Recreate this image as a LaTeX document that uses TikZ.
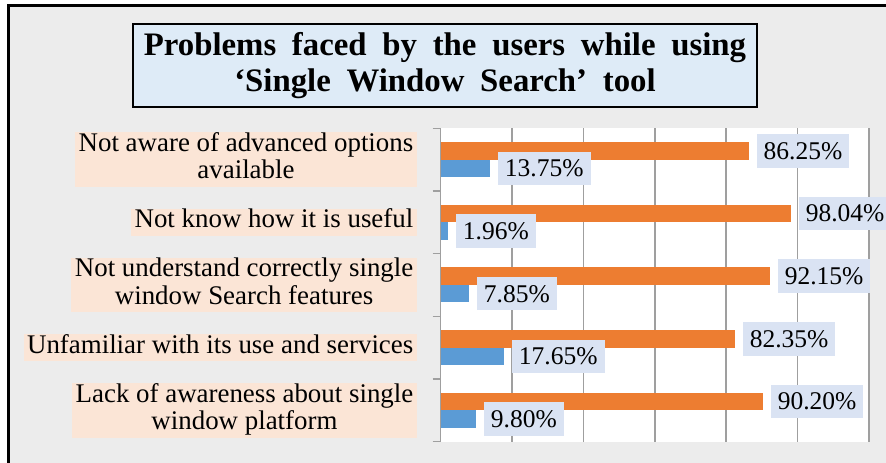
\documentclass[tikz,border=0pt]{standalone}
\usepackage{fontspec}
\setmainfont{Liberation Serif}
\usepackage{tikz}
\definecolor{ececec}{HTML}{ECECEC}
\definecolor{deebf7}{HTML}{DEEBF7}
\definecolor{fbe5d6}{HTML}{FBE5D6}
\definecolor{dae3f3}{HTML}{DAE3F3}
\definecolor{ed7d31}{HTML}{ED7D31}
\definecolor{5b9bd5}{HTML}{5B9BD5}
\definecolor{9f9f9f}{HTML}{9F9F9F}
\newcommand{\ttlfont}{\fontsize{32.8}{36.7}\selectfont\bfseries\spaceskip 0.48em\relax}
\begin{document}
\begin{tikzpicture}[line cap=butt,line join=miter,x=1pt,y=1pt,
  catlabel/.style={fill=fbe5d6,anchor=east,align=center,inner xsep=3.5pt,inner ysep=0pt,font=\fontsize{26.9}{27.3}\selectfont},
  vlabel/.style={fill=dae3f3,anchor=west,xshift=8pt,inner xsep=7pt,inner ysep=0pt,minimum height=33.5pt,font=\fontsize{25.5}{30}\selectfont}]
\useasboundingbox (0,0) rectangle (886,463);
\fill[color=white] (0,0) rectangle (886,463);
\fill[color=ececec] (8.5,0) rectangle (886,457.5);
\draw[line width=3pt] (8.5,0) -- (8.5,457.5) -- (886,457.5);
\begin{scope}[shift={(440.7,0)},x=3.569pt]
\fill[color=white] (0,21.3) rectangle (120,334.7);
\draw[color=9f9f9f,line width=1.5pt] (20,21.3) -- (20,334.7);
\draw[color=9f9f9f,line width=1.5pt] (40,21.3) -- (40,334.7);
\draw[color=9f9f9f,line width=1.5pt] (60,21.3) -- (60,334.7);
\draw[color=9f9f9f,line width=1.5pt] (80,21.3) -- (80,334.7);
\draw[color=9f9f9f,line width=1.5pt] (100,21.3) -- (100,334.7);
\draw[color=9f9f9f,line width=1.5pt] (120,21.3) -- (120,334.7);
\fill[color=ed7d31] (0,303.36) rectangle (86.25,320.86);
\fill[color=5b9bd5] (0,285.86) rectangle (13.75,303.36);
\fill[color=ed7d31] (0,240.68) rectangle (98.04,258.18);
\fill[color=5b9bd5] (0,223.18) rectangle (1.96,240.68);
\fill[color=ed7d31] (0,178.00) rectangle (92.15,195.50);
\fill[color=5b9bd5] (0,160.50) rectangle (7.85,178.00);
\fill[color=ed7d31] (0,115.32) rectangle (82.35,132.82);
\fill[color=5b9bd5] (0,97.82) rectangle (17.65,115.32);
\fill[color=ed7d31] (0,52.64) rectangle (90.20,70.14);
\fill[color=5b9bd5] (0,35.14) rectangle (9.80,52.64);
\node[vlabel] (o1) at (86.25,312.11) {86.25\%};
\node[vlabel] (b1) at (13.75,294.61) {13.75\%};
\node[vlabel] (o2) at (98.04,249.43) {98.04\%};
\node[vlabel] (b2) at (1.96,231.93) {1.96\%};
\node[vlabel] (o3) at (92.15,186.75) {92.15\%};
\node[vlabel] (b3) at (7.85,169.25) {7.85\%};
\node[vlabel] (o4) at (82.35,124.07) {82.35\%};
\node[vlabel] (b4) at (17.65,106.57) {17.65\%};
\node[vlabel] (o5) at (90.20,61.39) {90.20\%};
\node[vlabel] (b5) at (9.80,43.89) {9.80\%};
\end{scope}
\draw[color=9f9f9f,line width=1.5pt] (440.7,21.3) -- (440.7,334.7);
\draw[color=9f9f9f,line width=1.5pt] (432.5,334.7) -- (440.7,334.7);
\draw[color=9f9f9f,line width=1.5pt] (432.5,272.02) -- (440.7,272.02);
\draw[color=9f9f9f,line width=1.5pt] (432.5,209.34) -- (440.7,209.34);
\draw[color=9f9f9f,line width=1.5pt] (432.5,146.66) -- (440.7,146.66);
\draw[color=9f9f9f,line width=1.5pt] (432.5,83.98) -- (440.7,83.98);
\draw[color=9f9f9f,line width=1.5pt] (432.5,21.3) -- (440.7,21.3);
\node[catlabel] (c1) at (417,303.36) {\strut Not aware of advanced options\\\strut available};
\node[catlabel] (c2) at (417,240.68) {\strut Not know how it is useful};
\node[catlabel] (c3) at (417,178.00) {\strut Not understand correctly single\\\strut window Search features};
\node[catlabel] (c4) at (417,115.32) {\strut Unfamiliar with its use and services};
\node[catlabel] (c5) at (417,52.64) {\strut Lack of awareness about single\\\strut window platform};
\node[draw=black,line width=2pt,fill=deebf7,minimum width=624pt,minimum height=83pt,align=center,font=\ttlfont] (title) at (445,397.5) {Problems faced by the users while using\\‘Single Window Search’ tool};
\end{tikzpicture}
\end{document}
